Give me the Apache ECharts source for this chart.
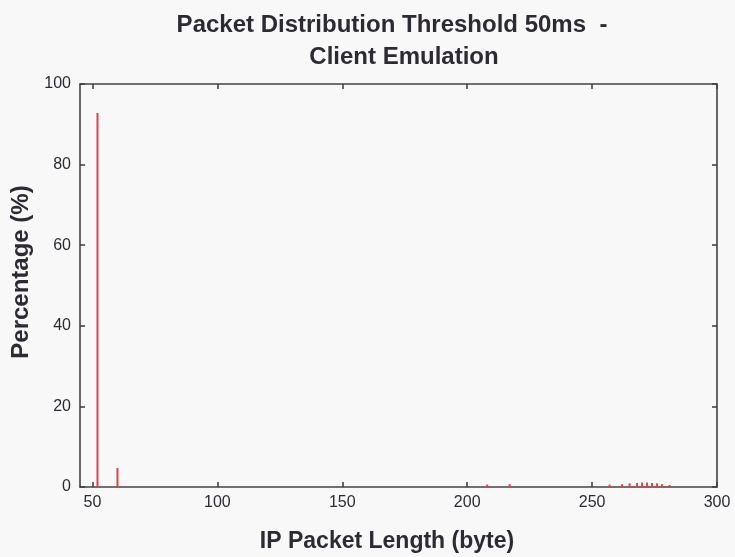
<!DOCTYPE html>
<html>
<head>
<meta charset="utf-8">
<script src="https://cdn.jsdelivr.net/npm/echarts@6/dist/echarts.min.js"></script>
<style>
  html, body { margin: 0; padding: 0; background: #f8f8f8; }
  #chart { width: 735px; height: 557px; }
</style>
</head>
<body>
<div id="chart"></div>
<script>
// Packet length histogram (bytes) and share of packets (%)
const packetLengths = [52, 60, 208, 217, 257, 262, 265, 268, 270, 272, 274, 276, 278, 281];
const packetShares  = [92.8, 4.7, 0.6, 0.7, 0.6, 0.7, 0.9, 1.0, 1.1, 1.1, 1.0, 0.9, 0.7, 0.5];

const xTickValues = [50, 100, 150, 200, 250, 300];
const yTickValues = [0, 20, 40, 60, 80, 100];

const titleLine1 = 'Packet Distribution Threshold 50ms  -';
const titleLine2 = 'Client Emulation';
const xAxisTitle = 'IP Packet Length (byte)';
const yAxisTitle = 'Percentage (%)';

const FONT = '"Liberation Sans", Arial, Helvetica, sans-serif';
const frameLine = { color: '#454045', width: 1.6 };
const textColor = '#2e2a33';

function frameAxis(pos, isX, showLabels) {
  const vals = isX ? xTickValues : yTickValues;
  return {
    type: 'value',
    position: pos,
    min: isX ? 45 : 0,
    max: isX ? 300 : 100,
    axisLine: { show: true, onZero: false, lineStyle: frameLine },
    axisTick: { show: true, inside: true, length: 5, customValues: vals, lineStyle: frameLine },
    axisLabel: {
      show: showLabels,
      customValues: vals,
      margin: isX ? 8 : 9,
      fontFamily: FONT,
      fontSize: 16,
      color: textColor
    },
    splitLine: { show: false }
  };
}

const chart = echarts.init(document.getElementById('chart'), null, { renderer: 'canvas' });

chart.setOption({
  backgroundColor: '#f8f8f8',
  animation: false,
  grid: { left: 80, right: 18, top: 84, bottom: 70 },
  xAxis: [frameAxis('bottom', true, true), frameAxis('top', true, false)],
  yAxis: [frameAxis('left', false, true), frameAxis('right', false, false)],
  series: [{
    type: 'bar',
    xAxisIndex: 0,
    yAxisIndex: 0,
    barWidth: 2,
    itemStyle: { color: '#e0404c' },
    data: packetLengths.map((len, i) => [len, packetShares[i]])
  }],
  graphic: [
    {
      type: 'text', x: 392, y: 25,
      style: { text: titleLine1, font: 'bold 24px ' + FONT, fill: textColor,
               textAlign: 'center', textVerticalAlign: 'middle', align: 'center', verticalAlign: 'middle' }
    },
    {
      type: 'text', x: 404, y: 57,
      style: { text: titleLine2, font: 'bold 24px ' + FONT, fill: textColor,
               textAlign: 'center', textVerticalAlign: 'middle', align: 'center', verticalAlign: 'middle' }
    },
    {
      type: 'text', x: 387, y: 542,
      style: { text: xAxisTitle, font: 'bold 23px ' + FONT, fill: textColor,
               textAlign: 'center', textVerticalAlign: 'middle', align: 'center', verticalAlign: 'middle' }
    },
    {
      type: 'text', x: 21, y: 272, rotation: Math.PI / 2,
      style: { text: yAxisTitle, font: 'bold 24px ' + FONT, fill: textColor,
               textAlign: 'center', textVerticalAlign: 'middle', align: 'center', verticalAlign: 'middle' }
    }
  ]
});
</script>
</body>
</html>
